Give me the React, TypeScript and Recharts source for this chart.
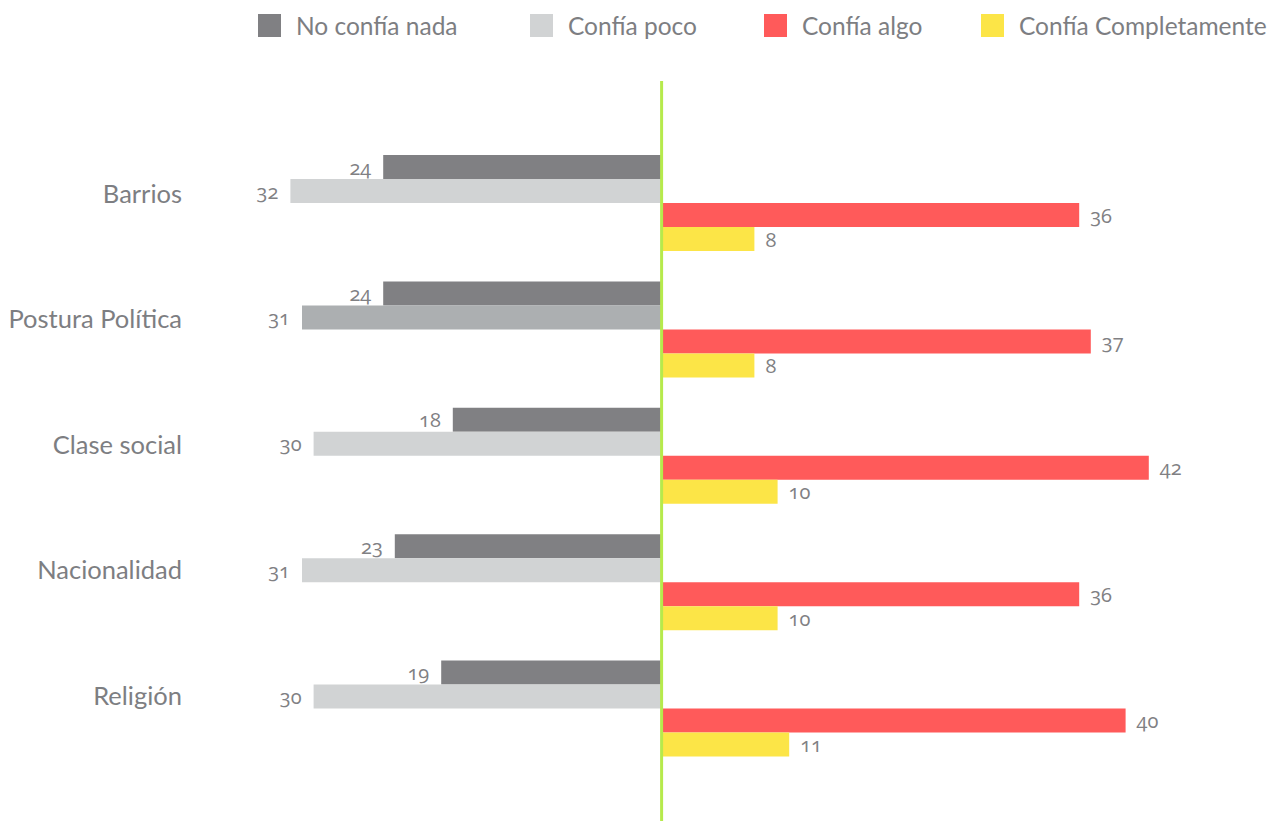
import { Bar, BarChart, Cell, LabelList, ReferenceLine, XAxis, YAxis } from "recharts";

const categories = ["Barrios", "Postura Política", "Clase social", "Nacionalidad", "Religión"];
const noConfiaNada = [24, 24, 18, 23, 19];
const confiaPoco = [32, 31, 30, 31, 30];
const confiaAlgo = [36, 37, 42, 36, 40];
const confiaCompletamente = [8, 8, 10, 10, 11];

const seriesNames = ["No confía nada", "Confía poco", "Confía algo", "Confía Completamente"];
const seriesColors = ["#808083", "#d1d3d4", "#ff5a5a", "#fce547"];
const highlightedPoco = "Postura Política";

const FONT = "Lato, 'Open Sans', sans-serif";
const NUM_FONT = "'Open Sans', 'Noto Sans', sans-serif";
const TEXT = "#7d7e82";

// left side series are negative so they grow away from the center line
const data = categories.map((cat, i) => ({
  cat,
  nada: -noConfiaNada[i],
  poco: -confiaPoco[i],
  algo: confiaAlgo[i],
  completa: confiaCompletamente[i],
}));

function ValueLabel(props: any) {
  const { x, y, width, height, value } = props;
  const v = Number(value);
  const left = Math.min(x, x + width);
  const right = Math.max(x, x + width);
  const neg = v < 0;
  return (
    <text
      x={neg ? left - 12 : right + 11}
      y={y + height / 2}
      textAnchor={neg ? "end" : "start"}
      dominantBaseline="central"
      fill="#808083"
      fontSize={20}
      fontFamily={NUM_FONT}
      style={{ fontVariantNumeric: "oldstyle-nums", fontFeatureSettings: '"onum" 1' }}
    >
      {Math.abs(v)}
    </text>
  );
}

function CategoryTick(props: any) {
  const { x, y, payload, index } = props;
  return (
    <text
      x={x + 4}
      y={y - 10.5 - index * 0.9}
      textAnchor="end"
      dominantBaseline="central"
      fill={TEXT}
      fontSize={25.5}
      fontFamily={FONT}
    >
      {payload.value}
    </text>
  );
}

const legendX = [258, 530, 764, 981];

export default function App() {
  return (
    <div style={{ position: "absolute", left: 0, top: 0, width: 1288, height: 821, background: "#fff" }}>
      <div style={{ position: "absolute", left: 0, top: 0, width: 1288, height: 50, fontFamily: FONT }}>
        {seriesNames.map((name, i) => (
          <div key={name} style={{ position: "absolute", left: legendX[i], top: 14, display: "flex", alignItems: "center" }}>
            <span style={{ width: 23, height: 23, background: seriesColors[i], display: "inline-block" }} />
            <span style={{ marginLeft: 15, fontSize: 24.5, color: TEXT, lineHeight: "23px", whiteSpace: "nowrap" }}>
              {name}
            </span>
          </div>
        ))}
      </div>
      <BarChart
        width={1288}
        height={821}
        data={data}
        layout="vertical"
        margin={{ top: 81, right: 0, bottom: 0, left: 0 }}
        barGap={0}
        barSize={24}
      >
        <XAxis type="number" domain={[-41, 54]} hide />
        <YAxis
          type="category"
          dataKey="cat"
          width={186}
          axisLine={false}
          tickLine={false}
          tick={<CategoryTick />}
          padding={{ top: 59, bottom: 49 }}
        />
        <Bar dataKey="nada" fill={seriesColors[0]} isAnimationActive={false}>
          <LabelList dataKey="nada" content={<ValueLabel />} />
        </Bar>
        <Bar dataKey="poco" fill={seriesColors[1]} isAnimationActive={false}>
          {data.map((d) => (
            <Cell key={d.cat} fill={d.cat === highlightedPoco ? "#acafb1" : seriesColors[1]} />
          ))}
          <LabelList dataKey="poco" content={<ValueLabel />} />
        </Bar>
        <Bar dataKey="algo" fill={seriesColors[2]} isAnimationActive={false}>
          <LabelList dataKey="algo" content={<ValueLabel />} />
        </Bar>
        <Bar dataKey="completa" fill={seriesColors[3]} isAnimationActive={false}>
          <LabelList dataKey="completa" content={<ValueLabel />} />
        </Bar>
        <ReferenceLine x={0} stroke="#b6ea4c" strokeWidth={3} />
      </BarChart>
    </div>
  );
}
